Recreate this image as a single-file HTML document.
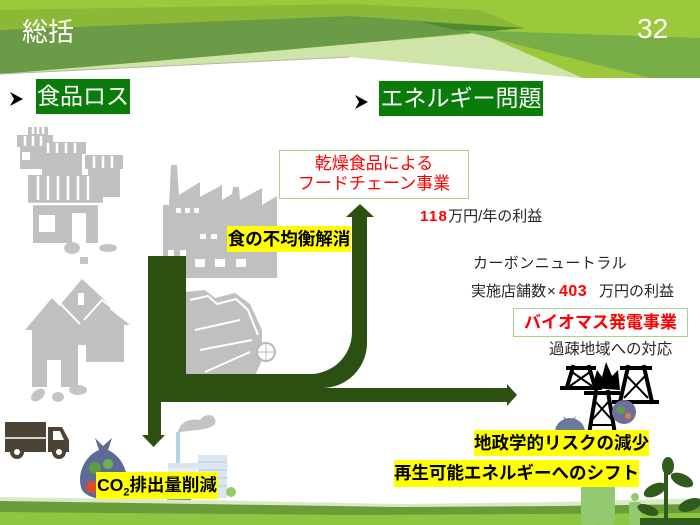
<!DOCTYPE html>
<html><head><meta charset="utf-8">
<style>
html,body{margin:0;padding:0;}
body{width:700px;height:525px;position:relative;overflow:hidden;background:#fff;font-family:"Liberation Sans","Noto Sans CJK JP",sans-serif;}
.t{position:absolute;white-space:nowrap;font-family:"Liberation Sans","Noto Sans CJK JP",sans-serif;}
.gbox{background:#0a7c0a;color:#fff;font-size:23px;text-align:center;}
.yl{background:#ffff00;color:#000;font-weight:bold;font-size:17.5px;text-align:center;}
.dk{color:#262626;font-size:15px;line-height:20px;}
.red{color:#ff0000;font-weight:bold;}
svg{position:absolute;left:0;top:0;}
</style></head><body>
<svg width="700" height="525" viewBox="0 0 700 525">
  <!-- header -->
  <polygon points="0,0 700,0 700,78 583,78 350,57 0,74" fill="#9cc83b"/>
  <polygon points="0,10 350,4 480,10 525,28 350,16 0,30" fill="#8cb838"/>
  <polygon points="350,44 480,33 583,78 350,57 0,74 250,53" fill="#cfe4a8"/>
  <polygon points="0,30 350,16 525,28 350,44 250,53 0,74" fill="#6b9b47"/>
  <polygon points="420,22 525,28 470,33" fill="#4f8a2e"/>
  <polygon points="460,30 700,38 700,78 650,78" fill="#78ae48"/>
  <line x1="0" y1="74" x2="350" y2="57" stroke="#b0b8a8" stroke-width="1"/>

  <!-- stores -->
  <g fill="#c0c0c0">
    <rect x="28" y="127" width="20" height="8"/>
    <rect x="17" y="135" width="36" height="12"/>
    <rect x="20" y="147" width="30" height="22"/>
    <rect x="38" y="142" width="48" height="12"/>
    <rect x="42" y="154" width="40" height="22"/>
    <rect x="85" y="155" width="38" height="14"/>
    <rect x="88" y="169" width="32" height="28"/>
    <rect x="28" y="175" width="75" height="28"/>
    <rect x="33" y="205" width="65" height="38"/>
  </g>
  <g stroke="#fff" stroke-width="2.5">
    <line x1="33" y1="127" x2="33" y2="134"/><line x1="38" y1="127" x2="38" y2="134"/><line x1="43" y1="127" x2="43" y2="134"/>
    <line x1="25" y1="136" x2="25" y2="146"/><line x1="33" y1="136" x2="33" y2="146"/><line x1="41" y1="136" x2="41" y2="146"/>
    <line x1="48" y1="143" x2="48" y2="153"/><line x1="57" y1="143" x2="57" y2="153"/><line x1="66" y1="143" x2="66" y2="153"/><line x1="75" y1="143" x2="75" y2="153"/>
    <line x1="94" y1="156" x2="94" y2="168"/><line x1="103" y1="156" x2="103" y2="168"/><line x1="112" y1="156" x2="112" y2="168"/>
    <line x1="38" y1="176" x2="38" y2="200"/><line x1="48" y1="176" x2="48" y2="200"/><line x1="58" y1="176" x2="58" y2="200"/><line x1="68" y1="176" x2="68" y2="200"/><line x1="78" y1="176" x2="78" y2="200"/><line x1="88" y1="176" x2="88" y2="200"/>
    <line x1="28" y1="204" x2="103" y2="204"/>
  </g>
  <rect x="39" y="215" width="16" height="17" fill="#fff"/>
  <rect x="72" y="213" width="14" height="30" fill="#fff"/>
  <rect x="22" y="152" width="8" height="8" fill="#fff"/>
  <!-- small food -->
  <g fill="#c4c4c4">
    <ellipse cx="72" cy="248" rx="8" ry="6"/>
    <ellipse cx="108" cy="248" rx="9" ry="4"/>
    <rect x="80" y="257" width="8" height="7"/>
    <ellipse cx="38" cy="395" rx="8" ry="5" transform="rotate(-40 38 395)"/>
    <ellipse cx="58" cy="397" rx="6" ry="5"/>
    <ellipse cx="78" cy="390" rx="9" ry="5"/>
  </g>
  <!-- houses -->
  <g fill="#c0c0c0">
    <polygon points="60,305 82,279 110,305 110,345 60,345"/>
    <polygon points="25,330 52,298 82,330 78,330 78,387 32,387 32,330"/>
    <polygon points="82,325 102,303 130,325 124,325 124,362 86,362 86,325"/>
  </g>
  <g stroke="#fff" stroke-width="2" fill="none">
    <polyline points="27,324 52,295 80,324"/>
    <polyline points="62,300 82,276 108,300"/>
    <polyline points="84,320 102,300 128,320"/>
  </g>
  <rect x="47" y="360" width="14" height="27" fill="#fff"/>
  <rect x="78" y="293" width="6" height="12" fill="#fff"/>
  <!-- factory gray -->
  <polygon fill="#c0c0c0" points="163,278 163,205 169,205 171,165 177,165 179,195 200,182 200,197 222,185 222,200 232,194 233,187 239,187 240,200 262,188 262,205 277,196 277,278"/>
  <g fill="#fff">
    <rect x="176" y="208" width="5" height="5"/><rect x="185" y="208" width="5" height="5"/><rect x="194" y="208" width="5" height="5"/>
    <rect x="200" y="234" width="6" height="5"/><rect x="211" y="234" width="6" height="5"/>
    <rect x="168" y="250" width="6" height="6"/><rect x="180" y="250" width="6" height="6"/>
    <rect x="195" y="259" width="10" height="8"/><rect x="215" y="259" width="10" height="8"/><rect x="236" y="259" width="10" height="8"/>
  </g>
  <!-- pile -->
  <polygon fill="#c0c0c0" points="185,292 205,290 215,298 235,293 250,304 262,330 262,360 255,376 185,376"/>
  <g stroke="#fff" stroke-width="2" fill="none">
    <polyline points="190,300 208,296 217,304 236,299 248,310 258,335"/>
    <line x1="195" y1="330" x2="240" y2="320"/><line x1="200" y1="350" x2="252" y2="340"/>
    <line x1="205" y1="372" x2="250" y2="352"/>
  </g>
  <circle cx="266" cy="352" r="9" fill="#fff" stroke="#b8b8b8" stroke-width="2"/>
  <g stroke="#b8b8b8" stroke-width="1"><line x1="257" y1="352" x2="275" y2="352"/><line x1="266" y1="343" x2="266" y2="361"/></g>

  <!-- main arrows -->
  <path fill="#2c5012" d="M148,256 H186 V374 H310 A42,42 0 0 0 352,332 V217 H346 L360,204 L374,217 H367 V343 A45,45 0 0 1 322,388 H507 V384 L517,395 L507,406 V402 H161 V435 H165 L153.5,447 L142,435 H148 Z"/>

  <!-- truck -->
  <g fill="#4b4333">
    <rect x="5" y="422" width="41" height="30"/>
    <polygon points="48,427 62,427 69,440 69,452 48,452"/>
    <circle cx="17" cy="452" r="7"/><circle cx="59" cy="452" r="7"/>
  </g>
  <line x1="5" y1="438" x2="46" y2="438" stroke="#fff" stroke-width="1.5"/>
  <circle cx="17" cy="452" r="3" fill="#fff"/><circle cx="59" cy="452" r="3" fill="#fff"/>
  <polygon points="53,431 60,431 64,440 53,440" fill="#fff"/>

  <!-- garbage bag -->
  <path fill="#5d6a94" d="M95,438 L103,446 L112,438 L108,450 C125,458 130,478 126,492 C120,502 90,502 82,490 C76,476 84,456 99,450 Z"/>
  <circle cx="95" cy="468" r="6" fill="#5aa040"/><circle cx="108" cy="464" r="5" fill="#6cb24a"/>
  <circle cx="92" cy="487" r="6" fill="#e04a2a"/>

  <!-- bottom factory -->
  <path d="M178,432 C180,422 190,418 200,420 C205,412 218,414 215,424 C210,430 195,430 180,432 Z" fill="#c4c4c4"/>
  <rect x="176" y="432" width="4" height="36" fill="#b9d3e6"/>
  <rect x="168" y="463" width="60" height="5" fill="#dde4ea"/>
  <rect x="168" y="468" width="29" height="30" fill="#e6edf3"/>
  <rect x="198" y="455" width="29" height="43" fill="#dbe6ef"/>
  <g stroke="#b8cbdc" stroke-width="1"><line x1="198" y1="462" x2="227" y2="462"/><line x1="198" y1="470" x2="227" y2="470"/><line x1="198" y1="478" x2="227" y2="478"/><line x1="198" y1="486" x2="227" y2="486"/></g>
  <rect x="167" y="497" width="24" height="6" fill="#2a7fd0"/>
  <circle cx="231" cy="492" r="5" fill="#8fcf6a"/>

  <!-- power towers -->
  <g stroke="#000" stroke-width="4" fill="none" stroke-linecap="square">
    <line x1="573" y1="367" x2="567" y2="387"/><line x1="589" y1="367" x2="595" y2="387"/>
    <line x1="568" y1="368" x2="594" y2="368"/>
    <line x1="562" y1="388" x2="600" y2="388"/>
    <line x1="628" y1="367" x2="620" y2="402"/><line x1="644" y1="367" x2="652" y2="402"/>
    <line x1="622" y1="368" x2="650" y2="368"/>
    <line x1="614" y1="402" x2="657" y2="402"/>
    <line x1="596" y1="392" x2="588" y2="440"/><line x1="608" y1="392" x2="616" y2="440"/>
    <line x1="586" y1="393" x2="618" y2="393"/>
  </g>
  <g stroke="#000" stroke-width="2" fill="none">
    <line x1="572" y1="372" x2="592" y2="386"/><line x1="590" y1="372" x2="570" y2="386"/>
    <line x1="626" y1="375" x2="648" y2="398"/><line x1="646" y1="375" x2="624" y2="398"/>
    <line x1="594" y1="400" x2="612" y2="420"/><line x1="610" y1="400" x2="592" y2="420"/>
    <line x1="590" y1="425" x2="614" y2="425"/>
  </g>
  <polygon points="592,388 597,370 602,377 606,362 612,376 618,370 620,390" fill="#000"/>
  <circle cx="624" cy="412" r="12" fill="#6e6d9c"/>
  <circle cx="621" cy="410" r="4" fill="#5aa040"/><circle cx="628" cy="416" r="3" fill="#e08030"/>
  <ellipse cx="570" cy="432" rx="15" ry="14" fill="#6b7a9b"/>
  <polygon points="563,416 570,422 576,416 573,424 567,424" fill="#6b7a9b"/>

  <!-- bottom grass -->
  <polygon points="0,497 200,500 400,504 560,502 700,498 700,525 0,525" fill="#dbe9c9"/>
  <polygon points="0,501 200,504 400,507 560,506 700,504 700,525 0,525" fill="#6a9c3a"/>
  <polygon points="0,512 350,515 700,513 700,525 0,525" fill="#8ec641"/>

  <!-- people -->
  <g fill="#94c971">
    <circle cx="589" cy="478" r="6"/><rect x="581" y="485" width="17" height="40" rx="3"/>
    <circle cx="606" cy="472" r="6"/><rect x="598" y="479" width="17" height="46" rx="3"/>
    <circle cx="635" cy="497" r="4"/><rect x="629" y="502" width="12" height="23" rx="2"/>
  </g>
  <!-- plant -->
  <g fill="#2f5b1c">
    <rect x="664" y="470" width="4" height="55"/>
    <ellipse cx="655" cy="490" rx="12" ry="6" transform="rotate(-25 655 490)"/>
    <ellipse cx="682" cy="480" rx="12" ry="6" transform="rotate(25 682 480)"/>
    <ellipse cx="668" cy="466" rx="6" ry="9"/>
    <ellipse cx="690" cy="505" rx="12" ry="6" transform="rotate(-20 690 505)"/>
    <ellipse cx="648" cy="510" rx="11" ry="5" transform="rotate(20 648 510)"/>
    <rect x="640" y="518" width="60" height="7"/>
  </g>

  <!-- bullets -->
  <polygon points="10,92 23,99 10,106 14,99" fill="#000"/>
  <polygon points="355,95 368,102 355,109 359,102" fill="#000"/>
</svg>

<div class="t" style="left:22px;top:18px;font-size:26px;line-height:28px;color:#fff;">総括</div>
<div class="t" style="left:637px;top:15px;font-size:28px;line-height:28px;color:#fff;">32</div>

<div class="t gbox" style="left:36px;top:79px;width:94px;height:35px;line-height:35px;">食品ロス</div>
<div class="t gbox" style="left:379px;top:81px;width:164px;height:35px;line-height:35px;">エネルギー問題</div>

<div class="t" style="left:279px;top:150px;width:190px;height:49px;box-sizing:border-box;border:1px solid #a9d18e;background:#fff;color:#ff0000;font-size:17px;line-height:20px;text-align:center;padding-top:3px;">乾燥食品による<br>フードチェーン事業</div>

<div class="t dk" style="left:420px;top:207px;"><span class="red" style="letter-spacing:1.3px;">118</span>万円/年の利益</div>

<div class="t dk" style="left:473px;top:254px;letter-spacing:0.4px;">カーボンニュートラル</div>
<div class="t dk" style="left:471px;top:282px;">実施店舗数</div>
<div class="t dk" style="left:547px;top:282px;">×</div>
<div class="t dk" style="left:559px;top:282px;"><span class="red" style="font-size:16px;letter-spacing:0.5px;">403</span></div>
<div class="t dk" style="left:599px;top:282px;">万円の利益</div>

<div class="t" style="left:513px;top:308px;width:175px;height:29px;box-sizing:border-box;border:1px solid #a9d18e;background:#fff;color:#ff0000;font-weight:bold;font-size:17px;line-height:27px;text-align:center;">バイオマス発電事業</div>

<div class="t dk" style="left:549px;top:340px;font-size:15.4px;">過疎地域への対応</div>

<div class="t yl" style="left:227px;top:226px;width:124px;height:26px;line-height:26px;">食の不均衡解消</div>
<div class="t yl" style="left:96px;top:472px;width:122px;height:27px;line-height:27px;">CO<sub style="font-size:11px;line-height:0;">2</sub>排出量削減</div>
<div class="t yl" style="left:474px;top:430px;width:175px;height:26px;line-height:26px;">地政学的リスクの減少</div>
<div class="t yl" style="left:394px;top:460px;width:245px;height:27px;line-height:27px;">再生可能エネルギーへのシフト</div>
</body></html>
